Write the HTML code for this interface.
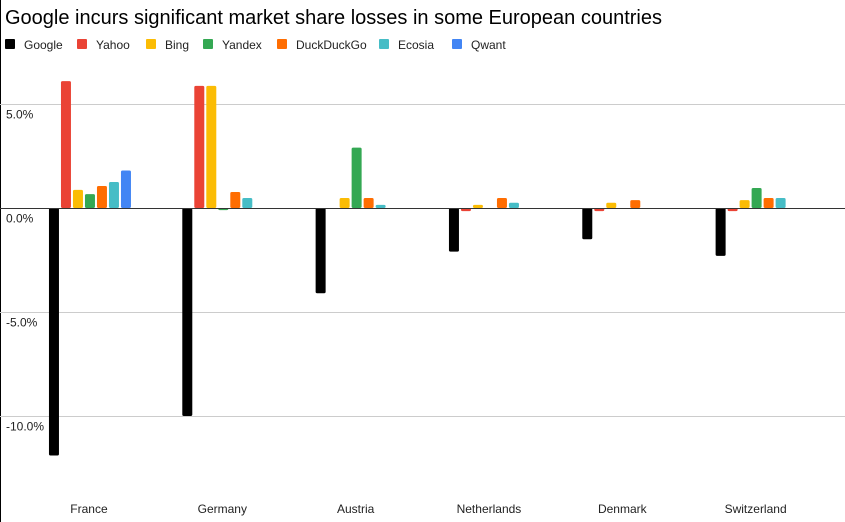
<!DOCTYPE html>
<html><head><meta charset="utf-8"><style>
body{margin:0;background:#fff;font-family:"Liberation Sans",Roboto,sans-serif}
svg{display:block}
</style></head><body>
<svg id="chart" width="845" height="522" xmlns="http://www.w3.org/2000/svg">
<rect x="0" y="0" width="845" height="522" fill="#fff"/>
<line x1="0.5" y1="0" x2="0.5" y2="522" stroke="#000" stroke-width="1"/>
<text x="5" y="24" font-size="20" fill="#000">Google incurs significant market share losses in some European countries</text>
<g id="legend"></g>
<g id="grid"></g>
<g id="bars"></g>
<g id="xlabels"></g>
</svg>
<script>
const categories = ["France","Germany","Austria","Netherlands","Denmark","Switzerland"];
const seriesNames = ["Google","Yahoo","Bing","Yandex","DuckDuckGo","Ecosia","Qwant"];
const seriesColors = ["#000000","#ea4335","#fbbc04","#34a853","#ff6d01","#46bdc6","#4285f4"];
const google = [-11.9,-10.0,-4.1,-2.1,-1.5,-2.3];
const yahoo = [6.1,5.87,null,-0.15,-0.15,-0.15];
const bing = [0.87,5.87,0.48,0.15,0.25,0.38];
const yandex = [0.67,-0.1,2.9,null,null,0.96];
const duckduckgo = [1.06,0.77,0.48,0.48,0.38,0.48];
const ecosia = [1.25,0.48,0.15,0.25,null,0.48];
const qwant = [1.8,null,null,null,null,null];
const yTicks = [5,0,-5,-10];
const yTickLabels = ["5.0%","0.0%","-5.0%","-10.0%"];
const legendX = [5,77,146,203,277,379,452];

const series = [google,yahoo,bing,yandex,duckduckgo,ecosia,qwant];
const NS="http://www.w3.org/2000/svg";
const zeroY=208, pxPer=20.8, plotLeft=22.3, groupW=133.33;
const y = v => zeroY - v*pxPer;
const xc = i => plotLeft + groupW*(i+0.5);
function mk(tag,attrs,parent){const e=document.createElementNS(NS,tag);for(const k in attrs)e.setAttribute(k,attrs[k]);parent.appendChild(e);return e;}

const grid=document.getElementById('grid');
yTicks.forEach((t,i)=>{
  const gy=Math.round(y(t))+0.5;
  const l=mk('line',{x1:0,x2:845,y1:gy,y2:gy,stroke:t===0?'#333':'#ccc','stroke-width':1},grid);
  
  
  const tx=mk('text',{x:6,y:gy+14,'font-size':12,fill:'#222'},grid);
  tx.textContent=yTickLabels[i];
  
  
});

const bars=document.getElementById('bars');
categories.forEach((c,ci)=>{
  const start=xc(ci)-40;
  series.forEach((s,si)=>{
    const v=s[ci]; if(v===null||v===undefined) return;
    const h=Math.max(Math.abs(v*pxPer),2);
    const r=mk('rect',{x:start+si*12,y:v>=0?zeroY-h:zeroY,width:10,height:h,rx:1.5,fill:seriesColors[si]},bars);
    
    
  });
  const t=mk('text',{x:xc(ci),y:513,'font-size':12,fill:'#222','text-anchor':'middle'},document.getElementById('xlabels'));
  t.textContent=c;
  
  
});
const z=mk('line',{x1:0,x2:845,y1:zeroY+0.5,y2:zeroY+0.5,stroke:'#333','stroke-width':1},bars);



const lg=document.getElementById('legend');
seriesNames.forEach((n,i)=>{
  const g=mk('g',{},lg);
  
  
  mk('rect',{x:legendX[i],y:39,width:10,height:10,rx:1,fill:seriesColors[i]},g);
  const t=mk('text',{x:legendX[i]+19,y:49,'font-size':12,fill:'#222'},g);
  t.textContent=n;
});
</script>
</body></html>
